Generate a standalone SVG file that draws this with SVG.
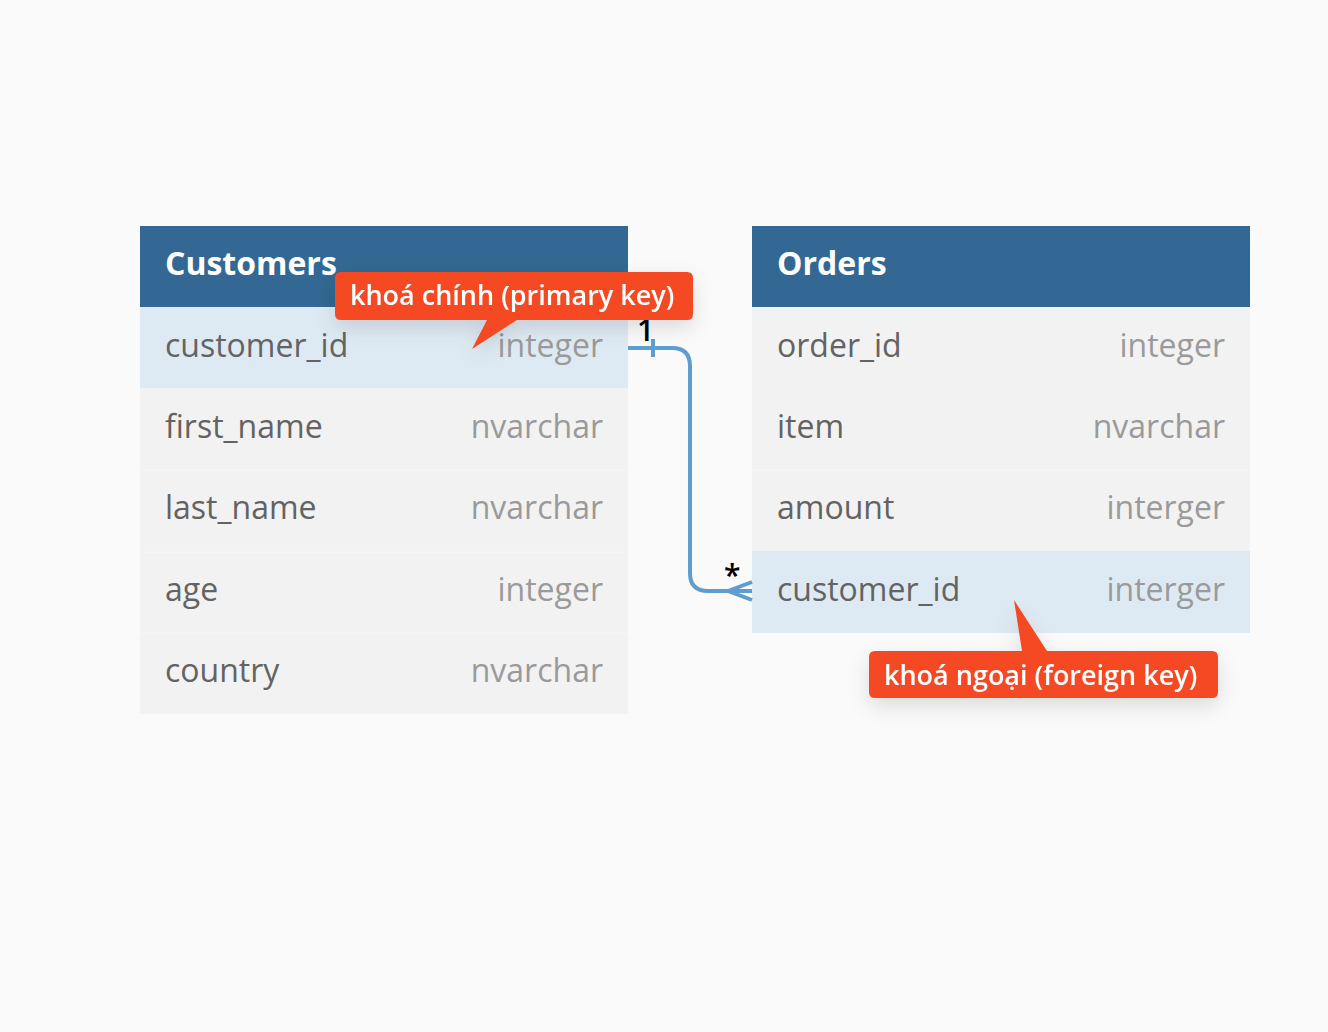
<svg xmlns="http://www.w3.org/2000/svg" width="1328" height="1032" viewBox="0 0 1328 1032">
<style>
.hdr{fill:#326893}
.row{fill:#f2f2f2}
.sel{fill:#deeaf3}
.sep{stroke:#f7f7f7;stroke-width:1}
.ht{font-family:"Open Sans",sans-serif;font-weight:700;font-size:32px;fill:#ffffff}
.fn{font-family:"Open Sans",sans-serif;font-size:32px;fill:#636363}
.ty{font-family:"Open Sans",sans-serif;font-size:32px;fill:#9a9a9a;text-anchor:end}
.co{fill:#f44a22}
.ct{font-family:"Open Sans",sans-serif;font-weight:600;font-size:27px;fill:#ffffff}
.lk{fill:none;stroke:#5f9dd1;stroke-width:4;stroke-linecap:butt}
.lbl{font-family:"Open Sans",sans-serif;font-size:30px;font-weight:600;fill:#000}
</style>
<defs>
<filter id="sh" x="-20%" y="-50%" width="140%" height="220%">
<feDropShadow dx="0" dy="8" stdDeviation="10" flood-color="#000" flood-opacity="0.12"/>
</filter>
</defs>
<rect width="1328" height="1032" fill="#fafafa"/>
<g id="customers">
<rect class="hdr" x="140" y="226" width="488" height="81"/>
<text class="ht" x="165" y="275">Customers</text>
<rect class="sel" x="140" y="307" width="488" height="81"/>
<rect class="row" x="140" y="388" width="488" height="81"/>
<rect class="row" x="140" y="469" width="488" height="82"/>
<rect class="row" x="140" y="551" width="488" height="82"/>
<rect class="row" x="140" y="633" width="488" height="81"/>
<line class="sep" x1="140" y1="470" x2="628" y2="470"/>
<line class="sep" x1="140" y1="552" x2="628" y2="552"/>
<line class="sep" x1="140" y1="633" x2="628" y2="633"/>
<text class="fn" x="165" y="357">customer_id</text><text class="ty" x="603" y="357">integer</text>
<text class="fn" x="165" y="438">first_name</text><text class="ty" x="603" y="438">nvarchar</text>
<text class="fn" x="165" y="519">last_name</text><text class="ty" x="603" y="519">nvarchar</text>
<text class="fn" x="165" y="601">age</text><text class="ty" x="603" y="601">integer</text>
<text class="fn" x="165" y="682">country</text><text class="ty" x="603" y="682">nvarchar</text>
</g>
<g id="orders">
<rect class="hdr" x="752" y="226" width="498" height="81"/>
<text class="ht" x="777" y="275">Orders</text>
<rect class="row" x="752" y="307" width="498" height="81"/>
<rect class="row" x="752" y="388" width="498" height="81"/>
<rect class="row" x="752" y="469" width="498" height="82"/>
<rect class="sel" x="752" y="551" width="498" height="82"/>
<line class="sep" x1="752" y1="470" x2="1250" y2="470"/>
<text class="fn" x="777" y="357">order_id</text><text class="ty" x="1225" y="357">integer</text>
<text class="fn" x="777" y="438">item</text><text class="ty" x="1225" y="438">nvarchar</text>
<text class="fn" x="777" y="519">amount</text><text class="ty" x="1225" y="519">interger</text>
<text class="fn" x="777" y="601">customer_id</text><text class="ty" x="1225" y="601">interger</text>
</g>
<g id="connectors">
<path class="lk" d="M628 348 H672 Q690 348 690 366 V573 Q690 591 708 591 H752"/>
<line class="lk" x1="653" y1="339" x2="653" y2="357"/>
<path class="lk" d="M728 591 L752 582 M728 591 L752 600"/>
<text class="lbl" x="637" y="341">1</text>
<text class="lbl" x="724" y="586">*</text>
</g>
<g id="callout-pk" filter="url(#sh)">
<path class="co" d="M341 272 H687 Q693 272 693 278 V314 Q693 320 687 320 H517 L472 349 L487 320 H341 Q335 320 335 314 V278 Q335 272 341 272 Z"/>
<text class="ct" x="350" y="305">khoá chính (primary key)</text>
</g>
<g id="callout-fk" filter="url(#sh)">
<path class="co" d="M875 651 H1022 L1014 600 L1047 651 H1212 Q1218 651 1218 657 V692 Q1218 698 1212 698 H875 Q869 698 869 692 V657 Q869 651 875 651 Z"/>
<text class="ct" x="884" y="685">khoá ngoại (foreign key)</text>
</g>
</svg>
